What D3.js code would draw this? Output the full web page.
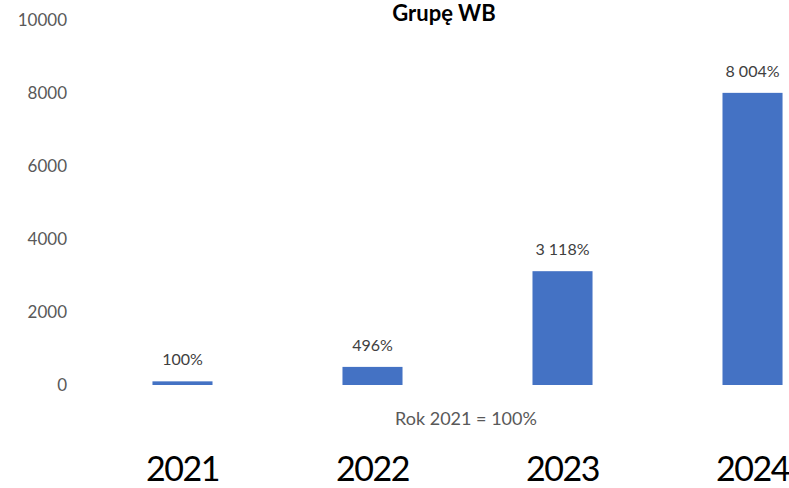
<!DOCTYPE html>
<html>
<head>
<meta charset="utf-8">
<script src="https://cdn.jsdelivr.net/npm/d3@7"></script>
<style>
  body { margin: 0; background: #fff; }
  text { font-family: Lato, "Open Sans", sans-serif; }
</style>
</head>
<body>
<script>
// data
var years = ["2021", "2022", "2023", "2024"];
var values = [100, 496, 3118, 8004];
var valueLabels = ["100%", "496%", "3 118%", "8 004%"];
var yTicks = [0, 2000, 4000, 6000, 8000, 10000];

var W = 789, H = 488;

var svg = d3.select("body").append("svg")
    .attr("width", W)
    .attr("height", H);

// the plot runs off the right edge in the original, so the band range does too
var x = d3.scaleBand()
    .domain(years)
    .range([22.5, 912.5])
    .paddingInner(0.684)
    .paddingOuter(0.684);

var y = d3.scaleLinear()
    .domain([0, 10000])
    .range([385, 20]);

// title (cut at the top in the source)
svg.append("text")
    .attr("x", 444)
    .attr("y", 21)
    .attr("text-anchor", "middle")
    .attr("font-size", 22)
    .attr("font-weight", "bold")
    .attr("fill", "#000")
    .text("Grupę WB");

// y axis, labels only
var yAxis = d3.axisLeft(y).tickValues(yTicks).tickSize(0).tickPadding(0)
    .tickFormat(function(d) { return d; });
var gy = svg.append("g").attr("transform", "translate(67,0)").call(yAxis);
gy.select(".domain").remove();
gy.selectAll("text")
    .attr("font-family", "Lato, 'Open Sans', sans-serif")
    .attr("font-size", 17)
    .attr("fill", "#595959");

// bars
svg.selectAll("rect.bar")
    .data(values)
    .enter()
    .append("rect")
    .attr("class", "bar")
    .attr("x", function(d, i) { return x(years[i]); })
    .attr("width", x.bandwidth())
    .attr("y", function(d) { return y(d); })
    .attr("height", function(d) { return y(0) - y(d); })
    .attr("fill", "#4472C4");

// value labels
svg.selectAll("text.val")
    .data(values)
    .enter()
    .append("text")
    .attr("class", "val")
    .attr("x", function(d, i) { return x(years[i]) + x.bandwidth() / 2; })
    .attr("y", function(d) { return y(d) - 16; })
    .attr("text-anchor", "middle")
    .attr("font-size", 16)
    .attr("fill", "#404040")
    .text(function(d, i) { return valueLabels[i]; });

// base note
svg.append("text")
    .attr("x", 466)
    .attr("y", 425)
    .attr("text-anchor", "middle")
    .attr("font-size", 18)
    .attr("fill", "#595959")
    .text("Rok 2021 = 100%");

// big year labels, squeezed a bit so 2024 fits like the source
var xAxis = d3.axisBottom(x).tickSize(0).tickPadding(0);
var gx = svg.append("g").attr("transform", "translate(0,481)").call(xAxis);
gx.select(".domain").remove();
gx.selectAll("text")
    .attr("dy", 0)
    .attr("font-family", "Lato, 'Open Sans', sans-serif")
    .attr("font-size", 34)
    .attr("letter-spacing", "-1.5px")
    .attr("fill", "#000");
</script>
</body>
</html>
